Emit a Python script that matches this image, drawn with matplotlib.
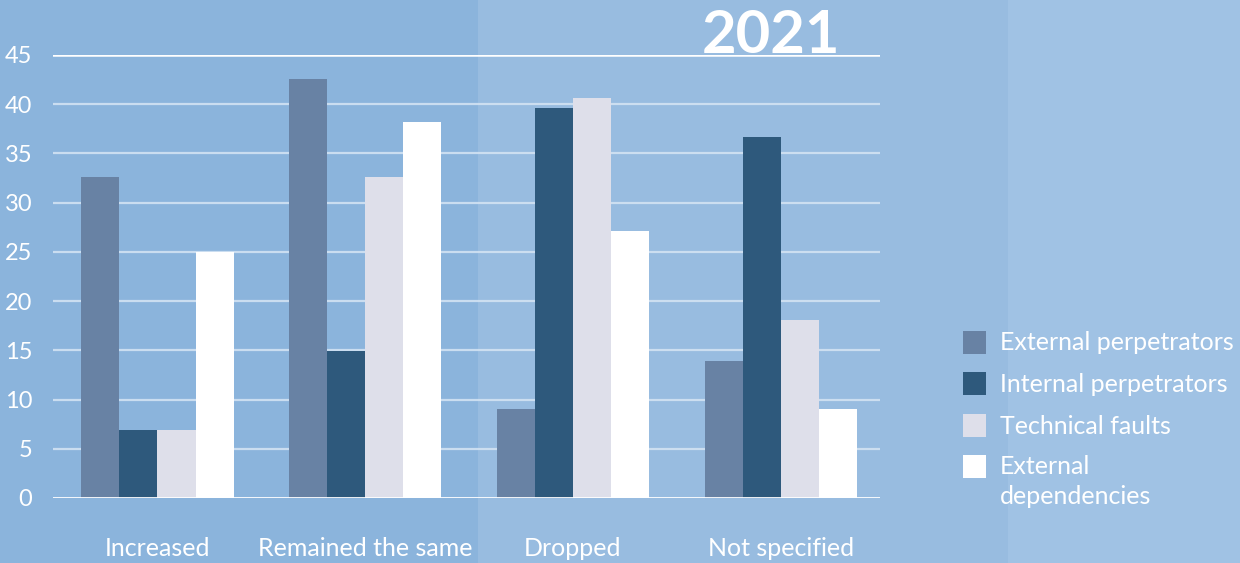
import matplotlib
matplotlib.use("Agg")
import matplotlib.pyplot as plt
from matplotlib.patches import Rectangle
import numpy as np

plt.rcParams['font.family'] = ['Lato', 'DejaVu Sans']

categories = ["Increased", "Remained the same", "Dropped", "Not specified"]
series_names = ["External perpetrators", "Internal perpetrators",
                "Technical faults", "External\ndependencies"]
external_perp = [32.6, 42.6, 9.0, 13.9]
internal_perp = [6.9, 14.9, 39.6, 36.7]
technical_faults = [6.9, 32.6, 40.6, 18.1]
external_deps = [25.0, 38.2, 27.1, 9.0]
yticks = [0, 5, 10, 15, 20, 25, 30, 35, 40, 45]
year_label = "2021"

series = [external_perp, internal_perp, technical_faults, external_deps]
colors = ["#6882a4", "#2e597c", "#dedfea", "#ffffff"]

W, H = 1240, 563
fig = plt.figure(figsize=(W / 100, H / 100), dpi=100)

# background panels
for x0, x1, c in [(0, 478, "#8bb4dc"), (478, 1008, "#98bce0"), (1008, 1240, "#a0c2e4")]:
    fig.patches.append(Rectangle((x0 / W, 0), (x1 - x0) / W, 1, transform=fig.transFigure,
                                 facecolor=c, edgecolor="none", zorder=-10))

ax = fig.add_axes([53 / W, 65 / H, (880 - 53) / W, (498 - 55) / H])
ax.set_facecolor("none")
ax.set_xlim(-0.503, 3.478)
ax.set_ylim(0, 45)

x = np.arange(len(categories))
bw = 0.183
for i, (vals, col) in enumerate(zip(series, colors)):
    ax.bar(x + (i - 1.5) * bw, vals, width=bw, color=col, zorder=3, linewidth=0)

# horizontal grid
for v in yticks[1:-1]:
    ax.axhline(v, color="#d6e5f4", lw=1.6, alpha=0.85, zorder=1)
ax.axhline(45, color="white", lw=1.8, zorder=1)
ax.axhline(0, color="white", lw=2.0, zorder=4)

for s in ax.spines.values():
    s.set_visible(False)
ax.set_yticks(yticks)
ax.set_yticklabels([str(v) for v in yticks])
ax.tick_params(axis="y", length=0, pad=15, labelsize=17, labelcolor="white")
ax.set_xticks(x)
ax.set_xticklabels(categories)
ax.tick_params(axis="x", length=0, pad=28, labelsize=18, labelcolor="white")

# year label
fig.text(771 / W, 1 - 53 / H, year_label, ha="center", va="baseline",
         fontsize=43, fontweight="bold", color="white")

# legend
rows_y = [342, 383, 425, 466]
for name, col, yy in zip(series_names, colors, rows_y):
    fig.patches.append(Rectangle((963 / W, 1 - (yy + 11.5) / H), 23 / W, 23 / H,
                                 transform=fig.transFigure, facecolor=col,
                                 edgecolor="none"))
    fig.text(1000 / W, 1 - (yy + 1) / H, name.split("\n")[0], ha="left", va="center",
             fontsize=18, color="white")
    if "\n" in name:
        fig.text(1000 / W, 1 - (yy + 31) / H, name.split("\n")[1], ha="left",
                 va="center", fontsize=18, color="white")

fig.savefig("out.png", dpi=100)
